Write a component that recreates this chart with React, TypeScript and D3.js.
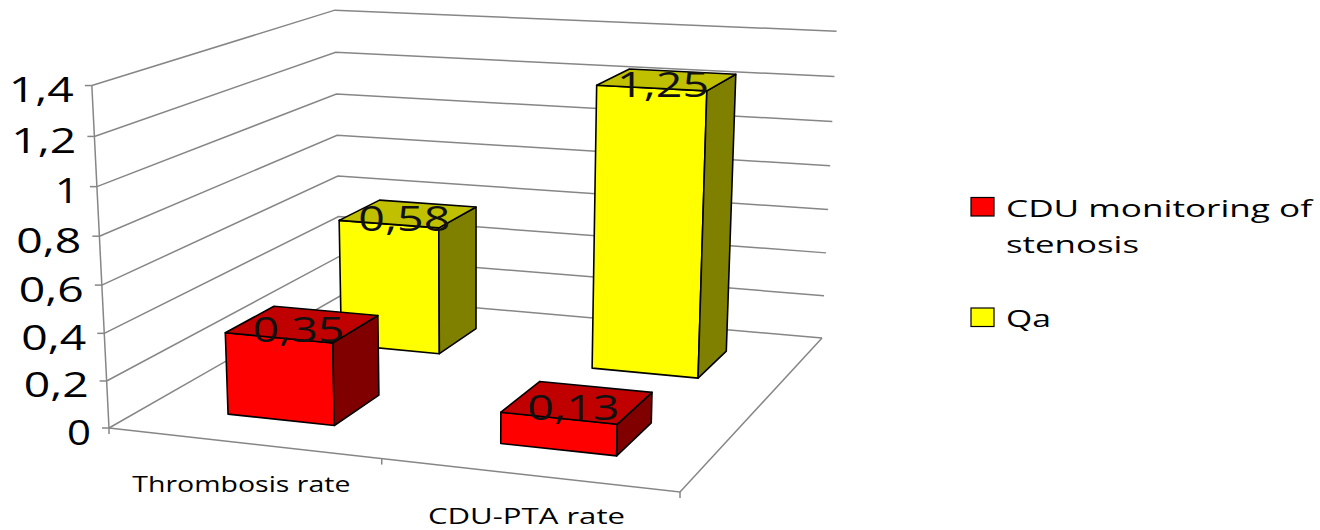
import React from "react";
import * as d3 from "d3";

// Chart data
const categories = ["Thrombosis rate", "CDU-PTA rate"];
const seriesNames = ["CDU monitoring of stenosis", "Qa"];
const cduValues = [0.35, 0.13];
const qaValues = [0.58, 1.25];
const valueTicks = [0, 0.2, 0.4, 0.6, 0.8, 1, 1.2, 1.4];

const FONT = "'Open Sans', sans-serif";
const GRID = "#868686";

// Perspective camera: floor square (u, w in 0..1) plus a height term t in 0..1.
const cam = { a: 512.8, b: 302.4, c: 109, d: 21.9, e: -69.9, f: 428, g: -0.0856, h: 0.2099, A: -21.3, B: -346.3, C: -0.045 };
function project(u: number, w: number, t: number): [number, number] {
  const den = cam.g * u + cam.h * w + 1 + cam.C * t;
  return [
    (cam.a * u + cam.b * w + cam.c + cam.A * t) / den,
    (cam.d * u + cam.e * w + cam.f + cam.B * t) / den,
  ];
}

const height = d3.scaleLinear().domain([0, 1.4]).range([0, 1]);
const across = d3.scaleBand<string>().domain(categories).range([0, 1]).paddingInner(0.6).paddingOuter(0.3);
const depth = d3.scaleBand<string>().domain(seriesNames).range([0, 1]).paddingInner(0.6).paddingOuter(0.3);
const slot = d3.scaleBand<string>().domain(categories).range([0, 1]);

const path = d3.line();
const closed = (pts: [number, number][]) => path(pts) + "Z";
const decimal = (v: number) => String(v).replace(".", ",");

type Palette = { front: string; top: string; side: string };
const RED: Palette = { front: "#ff0000", top: "#c00000", side: "#800000" };
const YELLOW: Palette = { front: "#ffff00", top: "#c0c000", side: "#808000" };

function Bar({ cat, series, value, pal }: { cat: string; series: string; value: number; pal: Palette }) {
  const u0 = across(cat)!;
  const u1 = u0 + across.bandwidth();
  const w0 = depth(series)!;
  const w1 = w0 + depth.bandwidth();
  const t = height(value);
  const edge = { stroke: "#000", strokeWidth: 1.6, strokeLinejoin: "round" as const };
  return (
    <g>
      <path d={closed([project(u0, w0, 0), project(u1, w0, 0), project(u1, w0, t), project(u0, w0, t)])} fill={pal.front} {...edge} />
      <path d={closed([project(u1, w0, 0), project(u1, w1, 0), project(u1, w1, t), project(u1, w0, t)])} fill={pal.side} {...edge} />
      <path d={closed([project(u0, w0, t), project(u1, w0, t), project(u1, w1, t), project(u0, w1, t)])} fill={pal.top} {...edge} />
    </g>
  );
}

function BarLabel({ cat, series, value }: { cat: string; series: string; value: number }) {
  const u = across(cat)! + across.bandwidth() / 2;
  const w = depth(series)! + depth.bandwidth() / 2;
  const [x, y] = project(u, w, height(value));
  return (
    <text x={x - 49} y={y + 18.5} fontFamily={FONT} fontSize={35} fill="#111" textLength={92} lengthAdjust="spacingAndGlyphs">
      {decimal(value)}
    </text>
  );
}

function Stretched({ x, y, width, size, children }: { x: number; y: number; width: number; size: number; children: string }) {
  return (
    <text x={x} y={y} fontFamily={FONT} fontSize={size} fill="#000" textLength={width} lengthAdjust="spacingAndGlyphs">
      {children}
    </text>
  );
}

export default function App() {
  const gridLines = valueTicks.map((v) => {
    const t = height(v);
    return path([project(0, 0, t), project(0, 1, t), project(1, 1, t)])!;
  });
  const categoryWidths = [218, 197];
  return (
    <svg width={1320} height={530} viewBox="0 0 1320 530" style={{ position: "absolute", left: 0, top: 0, background: "#fff" }}>
      {/* walls and floor */}
      <g fill="none" stroke={GRID} strokeWidth={1.5}>
        {gridLines.map((d, i) => (
          <path key={i} d={d} />
        ))}
        <path d={path([project(0, 0, 0), project(0, 0, 1)])!} />
        <path d={path([project(0, 0, 0), project(1, 0, 0), project(1, 1, 0)])!} />
        {valueTicks.map((v) => {
          const [x, y] = project(0, 0, height(v));
          return <path key={v} d={path([[x - 7, y], [x, y]])!} />;
        })}
        {[0, 0.5, 1].map((u) => {
          const [x, y] = project(u, 0, 0);
          return <path key={u} d={path([[x, y], [x, y + 6]])!} />;
        })}
      </g>

      {/* value axis */}
      {valueTicks.map((v) => {
        const [x, y] = project(0, 0, height(v));
        const label = decimal(v);
        const w = label.length > 1 ? 65 : 24;
        return (
          <Stretched key={v} x={x - 18 - w} y={y + 16.5} width={w} size={34}>
            {label}
          </Stretched>
        );
      })}

      {/* category axis */}
      {categories.map((c, i) => {
        const [x, y] = project(slot(c)! + slot.bandwidth() / 2, 0, 0);
        return (
          <Stretched key={c} x={x - categoryWidths[i] / 2 - 1} y={y + 49.5} width={categoryWidths[i]} size={22}>
            {c}
          </Stretched>
        );
      })}

      {/* columns, back row first */}
      <g transform="translate(1,1)">
        {categories.map((c, i) => (
          <Bar key={c} cat={c} series={seriesNames[1]} value={qaValues[i]} pal={YELLOW} />
        ))}
        {categories.map((c, i) => (
          <Bar key={c} cat={c} series={seriesNames[0]} value={cduValues[i]} pal={RED} />
        ))}
      </g>
      {categories.map((c, i) => (
        <BarLabel key={c} cat={c} series={seriesNames[1]} value={qaValues[i]} />
      ))}
      {categories.map((c, i) => (
        <BarLabel key={c} cat={c} series={seriesNames[0]} value={cduValues[i]} />
      ))}

      {/* legend */}
      <rect x={971} y={197.5} width={23} height={18.5} fill={RED.front} stroke="#000" strokeWidth={1.2} />
      <Stretched x={1006} y={216.5} width={306} size={24}>CDU monitoring of</Stretched>
      <Stretched x={1006} y={253} width={133} size={24}>stenosis</Stretched>
      <rect x={971} y={308} width={23} height={18.5} fill={YELLOW.front} stroke="#000" strokeWidth={1.2} />
      <Stretched x={1006} y={327} width={45} size={24}>Qa</Stretched>
    </svg>
  );
}
